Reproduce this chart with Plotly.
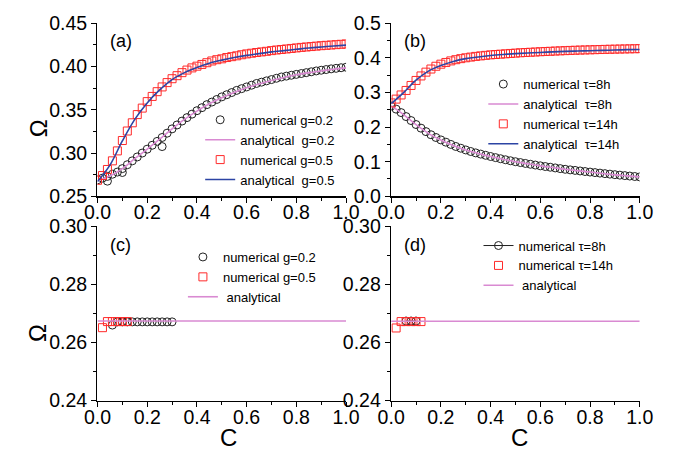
import plotly.graph_objects as go

# ---------------- data ----------------
c_num = [round(i * 0.02, 2) for i in range(51)]
c_ana = [round(i * 0.05, 2) for i in range(21)]

# panel (a)
a_num_g02 = [0.269, 0.271, 0.273, 0.2755, 0.278, 0.282, 0.2865, 0.291, 0.2955, 0.300,
             0.3045, 0.309, 0.3135, 0.318, 0.323, 0.328, 0.3325, 0.337, 0.341, 0.345,
             0.349, 0.3525, 0.356, 0.359, 0.362, 0.365, 0.3675, 0.370, 0.3725, 0.3745,
             0.3765, 0.3785, 0.3805, 0.382, 0.3835, 0.385, 0.3865, 0.388, 0.389, 0.390,
             0.391, 0.392, 0.393, 0.394, 0.395, 0.3958, 0.3966, 0.3974, 0.398, 0.3987, 0.3993]
a_out_c = [0.04, 0.10, 0.26]
a_out_v = [0.2675, 0.2775, 0.3075]
a_ana_g02 = [0.268, 0.2735, 0.282, 0.2935, 0.3045, 0.316, 0.328, 0.339, 0.3485, 0.357, 0.364,
             0.370, 0.3755, 0.380, 0.384, 0.3875, 0.3905, 0.393, 0.395, 0.397, 0.3985]
a_num_g05 = [0.2685, 0.274, 0.281, 0.291, 0.3025, 0.3145, 0.3255, 0.335, 0.3445, 0.352,
             0.3595, 0.3655, 0.371, 0.3765, 0.3815, 0.386, 0.3895, 0.393, 0.396, 0.3985,
             0.4005, 0.4025, 0.4045, 0.4065, 0.408, 0.409, 0.4105, 0.4115, 0.4125, 0.4137,
             0.4147, 0.4155, 0.4163, 0.417, 0.4177, 0.4185, 0.4192, 0.4198, 0.4204, 0.421,
             0.4216, 0.4222, 0.4227, 0.4232, 0.4237, 0.4242, 0.4246, 0.425, 0.4254, 0.4258, 0.4262]
a_ana_g05 = [0.267, 0.286, 0.314, 0.339, 0.358, 0.373, 0.385, 0.393, 0.399, 0.404, 0.4075,
             0.4105, 0.413, 0.415, 0.417, 0.4185, 0.420, 0.4215, 0.4227, 0.4238, 0.4248]

# panel (b)
b_num_t8 = [0.261, 0.252, 0.242, 0.2305, 0.219, 0.2075, 0.197, 0.187, 0.178, 0.170,
            0.163, 0.1565, 0.150, 0.144, 0.139, 0.134, 0.1295, 0.1255, 0.122, 0.1185,
            0.115, 0.1118, 0.1086, 0.1056, 0.1027, 0.100, 0.0975, 0.095, 0.0926, 0.0903,
            0.088, 0.086, 0.084, 0.082, 0.080, 0.078, 0.0764, 0.0748, 0.0732, 0.0716,
            0.070, 0.0685, 0.067, 0.0655, 0.064, 0.0625, 0.0611, 0.0598, 0.0585, 0.0572, 0.056]
b_ana_t8 = [0.262, 0.236, 0.207, 0.182, 0.163, 0.147, 0.134, 0.124, 0.115, 0.107, 0.100,
            0.094, 0.088, 0.083, 0.078, 0.074, 0.070, 0.066, 0.062, 0.059, 0.056]
b_num_t14 = [0.270, 0.281, 0.293, 0.306, 0.3205, 0.335, 0.348, 0.359, 0.368, 0.376,
             0.382, 0.387, 0.3915, 0.395, 0.398, 0.4005, 0.4025, 0.4045, 0.406, 0.4075,
             0.409, 0.410, 0.411, 0.412, 0.413, 0.414, 0.415, 0.4158, 0.4165, 0.4172,
             0.418, 0.4187, 0.4193, 0.420, 0.4206, 0.4212, 0.4218, 0.4223, 0.4228, 0.4232,
             0.4236, 0.424, 0.4244, 0.4248, 0.4252, 0.4255, 0.4258, 0.4261, 0.4264, 0.4267, 0.427]
b_ana_t14 = [0.268, 0.300, 0.336, 0.362, 0.378, 0.390, 0.398, 0.403, 0.407, 0.410, 0.4125,
             0.4145, 0.416, 0.4175, 0.419, 0.420, 0.421, 0.422, 0.423, 0.424, 0.4245]

# panel (c)
c_g02_c = [0.06, 0.08, 0.10, 0.12, 0.14, 0.16, 0.18, 0.20, 0.22, 0.24, 0.26, 0.28, 0.30]
c_g02_v = [0.266, 0.2671, 0.2671, 0.2671, 0.2671, 0.2671, 0.2671, 0.2671, 0.2671, 0.2671, 0.2671, 0.2671, 0.2671]
c_g05_c = [0.02, 0.04, 0.06, 0.08, 0.10, 0.12]
c_g05_v = [0.2651, 0.2672, 0.2672, 0.2672, 0.2672, 0.2672]
c_ana_c = [0.0, 1.0]
c_ana_v = [0.2674, 0.2674]

# panel (d)
d_t8_c = [0.06, 0.08, 0.10]
d_t8_v = [0.2674, 0.2674, 0.2674]
d_t14_c = [0.02, 0.04, 0.06, 0.08, 0.10, 0.12]
d_t14_v = [0.2650, 0.2672, 0.2672, 0.2672, 0.2672, 0.2672]
d_ana_c = [0.0, 1.0]
d_ana_v = [0.2673, 0.2673]

# ---------------- styles ----------------
FONT = "Liberation Sans, Arial, sans-serif"
PINK = "#d98ad2"
BLUE = "#2c44a4"
RED = "#ff2a2a"
BLACK = "#222222"
W, H = 695, 464


def px_x(p):
    return p / W


def px_y(p):
    return 1 - p / H


circ = dict(symbol="circle-open", size=8, color=BLACK, line=dict(width=1, color=BLACK))
sq = dict(symbol="square-open", size=8, color=RED, line=dict(width=1, color=RED))

fig = go.Figure()

# (a)
fig.add_trace(go.Scatter(x=c_num + a_out_c, y=a_num_g02 + a_out_v, mode="markers", marker=circ,
                         name="numerical g=0.2", xaxis="x", yaxis="y", legend="legend"))
fig.add_trace(go.Scatter(x=c_ana, y=a_ana_g02, mode="lines", line=dict(color=PINK, width=1.6, shape="spline"),
                         name="analytical  g=0.2", xaxis="x", yaxis="y", legend="legend"))
fig.add_trace(go.Scatter(x=c_num, y=a_num_g05, mode="markers", marker=sq,
                         name="numerical g=0.5", xaxis="x", yaxis="y", legend="legend"))
fig.add_trace(go.Scatter(x=c_ana, y=a_ana_g05, mode="lines", line=dict(color=BLUE, width=1.6, shape="spline"),
                         name="analytical  g=0.5", xaxis="x", yaxis="y", legend="legend"))

# (b)
fig.add_trace(go.Scatter(x=c_num, y=b_num_t8, mode="markers", marker=circ,
                         name="numerical τ=8h", xaxis="x2", yaxis="y2", legend="legend2"))
fig.add_trace(go.Scatter(x=c_ana, y=b_ana_t8, mode="lines", line=dict(color=PINK, width=1.6, shape="spline"),
                         name="analytical  τ=8h", xaxis="x2", yaxis="y2", legend="legend2"))
fig.add_trace(go.Scatter(x=c_num, y=b_num_t14, mode="markers", marker=sq,
                         name="numerical τ=14h", xaxis="x2", yaxis="y2", legend="legend2"))
fig.add_trace(go.Scatter(x=c_ana, y=b_ana_t14, mode="lines", line=dict(color=BLUE, width=1.6, shape="spline"),
                         name="analytical  τ=14h", xaxis="x2", yaxis="y2", legend="legend2"))

# (c)
fig.add_trace(go.Scatter(x=c_g02_c, y=c_g02_v, mode="markers", marker=circ,
                         name="numerical g=0.2", xaxis="x3", yaxis="y3", legend="legend3"))
fig.add_trace(go.Scatter(x=c_g05_c, y=c_g05_v, mode="markers", marker=sq,
                         name="numerical g=0.5", xaxis="x3", yaxis="y3", legend="legend3"))
fig.add_trace(go.Scatter(x=c_ana_c, y=c_ana_v, mode="lines", line=dict(color=PINK, width=1.6),
                         name=" analytical", xaxis="x3", yaxis="y3", legend="legend3"))

# (d)
fig.add_trace(go.Scatter(x=d_t8_c, y=d_t8_v, mode="lines+markers", marker=circ, line=dict(color=BLACK, width=1),
                         name="numerical τ=8h", xaxis="x4", yaxis="y4", legend="legend4"))
fig.add_trace(go.Scatter(x=d_t14_c, y=d_t14_v, mode="markers", marker=sq,
                         name="numerical τ=14h", xaxis="x4", yaxis="y4", legend="legend4"))
fig.add_trace(go.Scatter(x=d_ana_c, y=d_ana_v, mode="lines", line=dict(color=PINK, width=1.6),
                         name=" analytical", xaxis="x4", yaxis="y4", legend="legend4"))


def xax(dom, anchor):
    return dict(domain=dom, anchor=anchor, range=[0, 1], dtick=0.2, tickformat=".1f",
                showline=True, linecolor="black", linewidth=1.5, mirror=False,
                ticks="outside", ticklen=5, tickwidth=1, tickcolor="black",
                minor=dict(dtick=0.1, ticks="outside", ticklen=3, tickcolor="black", showgrid=False),
                showgrid=False, zeroline=False, ticklabelstandoff=-7,
                tickfont=dict(family=FONT, size=19.5, color="black"))


def yax(dom, anchor, rng, dt, mdt, fmt):
    return dict(domain=dom, anchor=anchor, range=rng, dtick=dt, tick0=0, tickformat=fmt,
                showline=True, linecolor="black", linewidth=1.5, mirror=False,
                ticks="outside", ticklen=5, tickwidth=1, tickcolor="black",
                minor=dict(dtick=mdt, ticks="outside", ticklen=3, tickcolor="black", showgrid=False),
                showgrid=False, zeroline=False,
                tickfont=dict(family=FONT, size=19.5, color="black"))


xl = [px_x(87), px_x(346)]
xr = [px_x(393), px_x(652)]
yt = [px_y(194.5), px_y(13)]
yb = [px_y(409), px_y(226)]

leg_common = dict(bgcolor="rgba(0,0,0,0)", borderwidth=0, font=dict(family=FONT, size=13, color="black"),
                  xanchor="left", yanchor="top", tracegroupgap=0, itemwidth=30)

fig.update_layout(
    width=W, height=H, margin=dict(l=0, r=0, t=0, b=0),
    paper_bgcolor="white", plot_bgcolor="white", hovermode=False,
    font=dict(family=FONT, size=14, color="black"),
    xaxis=xax(xl, "y"), yaxis=yax(yt, "x", [0.25, 0.45], 0.05, 0.025, ".2f"),
    xaxis2=xax(xr, "y2"), yaxis2=yax(yt, "x2", [0.0, 0.5], 0.1, 0.05, ".1f"),
    xaxis3=xax(xl, "y3"), yaxis3=yax(yb, "x3", [0.24, 0.30], 0.02, 0.01, ".2f"),
    xaxis4=xax(xr, "y4"), yaxis4=yax(yb, "x4", [0.24, 0.30], 0.02, 0.01, ".2f"),
    legend=dict(x=px_x(194), y=px_y(98.5), **leg_common),
    legend2=dict(x=px_x(489), y=px_y(61), **leg_common),
    legend3=dict(x=px_x(176), y=px_y(242.5), **leg_common),
    legend4=dict(x=px_x(484), y=px_y(230.5), **leg_common),
    showlegend=True,
)

ann = [
    dict(text="(a)", x=px_x(112), y=px_y(32)),
    dict(text="(b)", x=px_x(418), y=px_y(31)),
    dict(text="(c)", x=px_x(111), y=px_y(246)),
    dict(text="(d)", x=px_x(418), y=px_y(246)),
]
for a in ann:
    fig.add_annotation(xref="paper", yref="paper", showarrow=False, xanchor="center", yanchor="middle",
                       font=dict(family=FONT, size=18, color="black"), **a)

for yy in (123, 338):
    fig.add_annotation(xref="paper", yref="paper", x=px_x(25), y=px_y(yy), text="Ω", textangle=-90,
                       showarrow=False, xanchor="center", yanchor="middle",
                       font=dict(family=FONT, size=24, color="black"))
for xx in (223, 527):
    fig.add_annotation(xref="paper", yref="paper", x=px_x(xx), y=px_y(448), text="C",
                       showarrow=False, xanchor="center", yanchor="middle",
                       font=dict(family=FONT, size=24, color="black"))

fig.write_html("out.html", config={"displayModeBar": False, "staticPlot": True},
               post_script="document.body.style.margin='0px';document.body.style.overflow='hidden';")
